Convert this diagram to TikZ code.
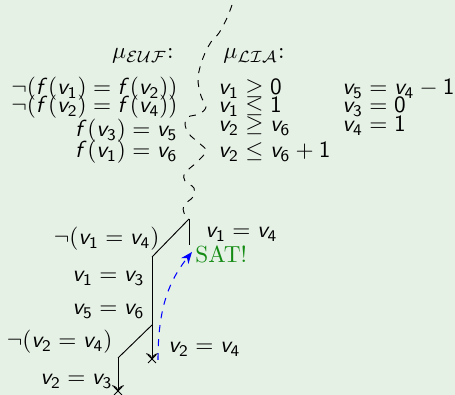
\documentclass[tikz,border=0pt]{standalone}
\usepackage{amssymb}
\usetikzlibrary{arrows.meta,shapes.misc}
\DeclareMathAlphabet{\mathsfsl}{OT1}{cmss}{m}{sl}
\newcommand{\Vr}[1]{\mathsfsl{v}_{\mathsf{#1}}}
\newcommand{\Fn}{\mathsfsl{f}}
\newcommand{\Nm}[1]{\mathsf{#1}}
\definecolor{bg}{RGB}{230,241,230}
\definecolor{satgreen}{RGB}{20,140,20}
\tikzset{
  sm/.style={inner sep=0pt, font=\normalfont},
  sr/.style={inner sep=0pt, font=\normalfont},
  branch/.style={draw=black, line width=0.4pt},
  conflict/.style={draw=black, cross out, minimum size=3pt, inner sep=0pt, line width=0.4pt},
  wiggle/.style={draw=black, dashed, line width=0.4pt},
  backjump/.style={draw=blue, dashed, line width=0.45pt, -{Stealth[length=5pt,width=4pt]}}
}
\begin{document}
\begin{tikzpicture}[x=0.43pt,y=-0.43pt]
\fill[bg] (0,0) rectangle (455,395);
\useasboundingbox (0,0) rectangle (455,395);

% headers
\node[sr, anchor=base east] (heuf) at (174,59) {$\mu_{\mathcal{EUF}}$:};
\node[sr, anchor=base west] (hlia) at (223,59) {$\mu_{\mathcal{LIA}}$:};

% EUF column
\node[sm, anchor=base east] (e1) at (178,95) {$\neg(\Fn(\Vr1) = \Fn(\Vr2))$};
\node[sm, anchor=base east] (e2) at (178,113) {$\neg(\Fn(\Vr2) = \Fn(\Vr4))$};
\node[sm, anchor=base east] (e3) at (178,137) {$\Fn(\Vr3) = \Vr5$};
\node[sm, anchor=base east] (e4) at (178,158) {$\Fn(\Vr1) = \Vr6$};

% LIA columns
\node[sm, anchor=base west] (l1) at (218,95) {$\Vr1 \geq \Nm0$};
\node[sm, anchor=base west] (l2) at (218,113) {$\Vr1 \leq \Nm1$};
\node[sm, anchor=base west] (l3) at (218,132) {$\Vr2 \geq \Vr6$};
\node[sm, anchor=base west] (l4) at (218,158) {$\Vr2 \leq \Vr6 + \Nm1$};
\node[sm, anchor=base west] (r1) at (342,95) {$\Vr5 = \Vr4 - \Nm1$};
\node[sm, anchor=base west] (r2) at (342,113) {$\Vr3 = \Nm0$};
\node[sm, anchor=base west] (r3) at (342,132) {$\Vr4 = \Nm1$};

% tree points
\coordinate (T) at (189,219);
\coordinate (Ta) at (189,245);
\coordinate (A) at (152,257);
\coordinate (B) at (152,325);
\coordinate (Bend) at (152,359);
\coordinate (C) at (118,358);
\coordinate (Cend) at (118,391);

% wiggly separator
\draw[wiggle] plot[smooth, tension=0.6] coordinates {
 (232,5) (227,18) (219,33) (211,42) (203,58) (198,78) (201,96) (206,107)
 (199,114) (188,117) (185,124) (189,134) (199,143) (206,151) (197,162)
 (185,173) (185,181) (194,188) (193,197) (184,205) (184,213) (189,219)};

% branches
\draw[branch] (T) -- (Ta);
\draw[branch] (T) -- (A);
\draw[branch, ->] (A) -- (Bend);
\draw[branch] (B) -- (C);
\draw[branch, ->] (C) -- (Cend);
\node[conflict] (x1) at (Bend) {};
\node[conflict] (x2) at (Cend) {};

% backjump
\coordinate (S) at (158,360);
\coordinate (G) at (192,252);
\draw[backjump] (S) .. controls (158,310) and (168,282) .. (G);

% labels
\node[sm, anchor=base east] (a1) at (160,245) {$\neg(\Vr1 = \Vr4)$};
\node[sm, anchor=base west] (a2) at (205,238) {$\Vr1 = \Vr4$};
\node[sr, anchor=base west, text=satgreen] (sat) at (195,263) {SAT!};
\node[sm, anchor=base east] (a3) at (145,282) {$\Vr1 = \Vr3$};
\node[sm, anchor=base east] (a4) at (145,315) {$\Vr5 = \Vr6$};
\node[sm, anchor=base east] (a5) at (113,348) {$\neg(\Vr2 = \Vr4)$};
\node[sm, anchor=base west] (a6) at (168,353) {$\Vr2 = \Vr4$};
\node[sm, anchor=base east] (a7) at (113,385) {$\Vr2 = \Vr3$};
\end{tikzpicture}
\end{document}
